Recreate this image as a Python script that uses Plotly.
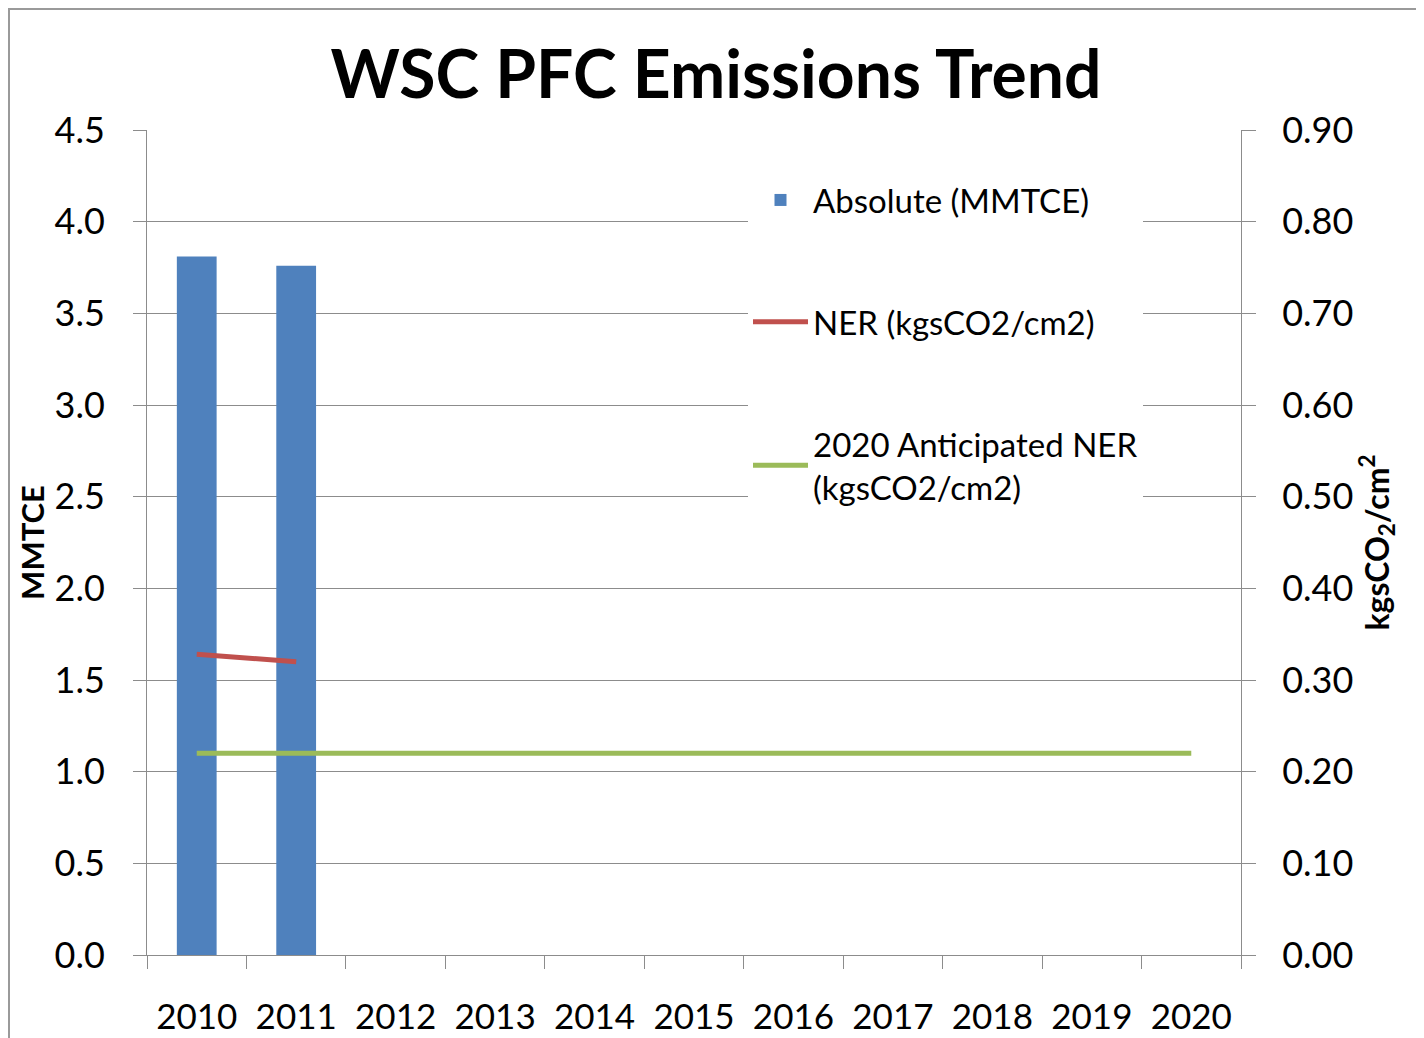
import plotly.graph_objects as go

years = [str(y) for y in range(2010, 2021)]
absolute_mmtce = [3.81, 3.76]
ner_values = [0.328, 0.320]
anticipated_ner = [0.22] * 11

FONT = "Lato"
GRID = "#8c8c8c"

# figure is drawn with an 8px page offset; plot area spans 147..1241 x 130..955 on screen
L, T, W, H = 139, 122, 1094, 825

fig = go.Figure()
fig.add_trace(go.Bar(
    x=years[:2], y=absolute_mmtce, name="Absolute (MMTCE)",
    marker=dict(color="#4F81BD", line=dict(width=0)), width=0.4,
    legendgroup="a", yaxis="y",
))
fig.add_trace(go.Scatter(
    x=years[:2], y=ner_values, name="NER (kgsCO2/cm2)", mode="lines",
    line=dict(color="#C0504D", width=5), legendgroup="b", yaxis="y2",
))
fig.add_trace(go.Scatter(
    x=years, y=anticipated_ner, name="2020 Anticipated NER<br>(kgsCO2/cm2)", mode="lines",
    line=dict(color="#9BBB59", width=5), legendgroup="c", yaxis="y2",
))

fig.update_layout(
    width=1416, height=1030,
    margin=dict(l=L, r=1416 - L - W, t=T, b=1030 - T - H, autoexpand=False),
    paper_bgcolor="white", plot_bgcolor="white",
    font=dict(family=FONT, color="#000000", size=32),
    title=dict(text="<b>WSC PFC Emissions Trend</b>", x=0.5, xanchor="center",
               y=1 - 67 / 1030, yanchor="middle", font=dict(size=66, family=FONT)),
    showlegend=True,
    legend=dict(x=(748 - 147) / W, y=(955 - 172) / H, xanchor="left", yanchor="top",
                bgcolor="white", font=dict(size=33, family=FONT),
                tracegroupgap=76, traceorder="grouped", itemwidth=55),
    xaxis=dict(type="category", categoryorder="array", categoryarray=years, automargin=False,
               range=[-0.5, 10.5], showgrid=False, showline=True, linecolor=GRID, linewidth=1,
               ticks="outside", tickson="boundaries", ticklen=13, tickcolor=GRID,
               ticklabelstandoff=31, tickfont=dict(size=35)),
    yaxis=dict(range=[0, 4.5], dtick=0.5, tickformat=".1f", showgrid=True, gridcolor=GRID,
               automargin=False,
               gridwidth=1, showline=True, linecolor=GRID, ticks="outside", ticklen=13,
               tickcolor=GRID, ticklabelstandoff=21, tickfont=dict(size=36), zeroline=False,
               title=dict(text="<b>MMTCE</b>", font=dict(size=31), standoff=0)),
    yaxis2=dict(range=[0, 0.9], dtick=0.1, tickformat=".2f", overlaying="y", side="right",
                automargin=False,
                showgrid=False, showline=True, linecolor=GRID, ticks="outside", ticklen=14,
                tickcolor=GRID, ticklabelstandoff=19, tickfont=dict(size=36), zeroline=False,
                title=dict(text="<b>kgsCO<sub>2</sub>/cm<sup>2</sup></b>", font=dict(size=32),
                           standoff=4)),
    shapes=[dict(type="rect", xref="paper", yref="paper",
                 x0=(1 - L) / W, x1=(1409 - L) / W,
                 y0=-0.2, y1=(T + H - 1) / H,
                 line=dict(color="#9a9a9a", width=2), fillcolor="rgba(0,0,0,0)", layer="below")],
)

fig.write_html("out.html")
